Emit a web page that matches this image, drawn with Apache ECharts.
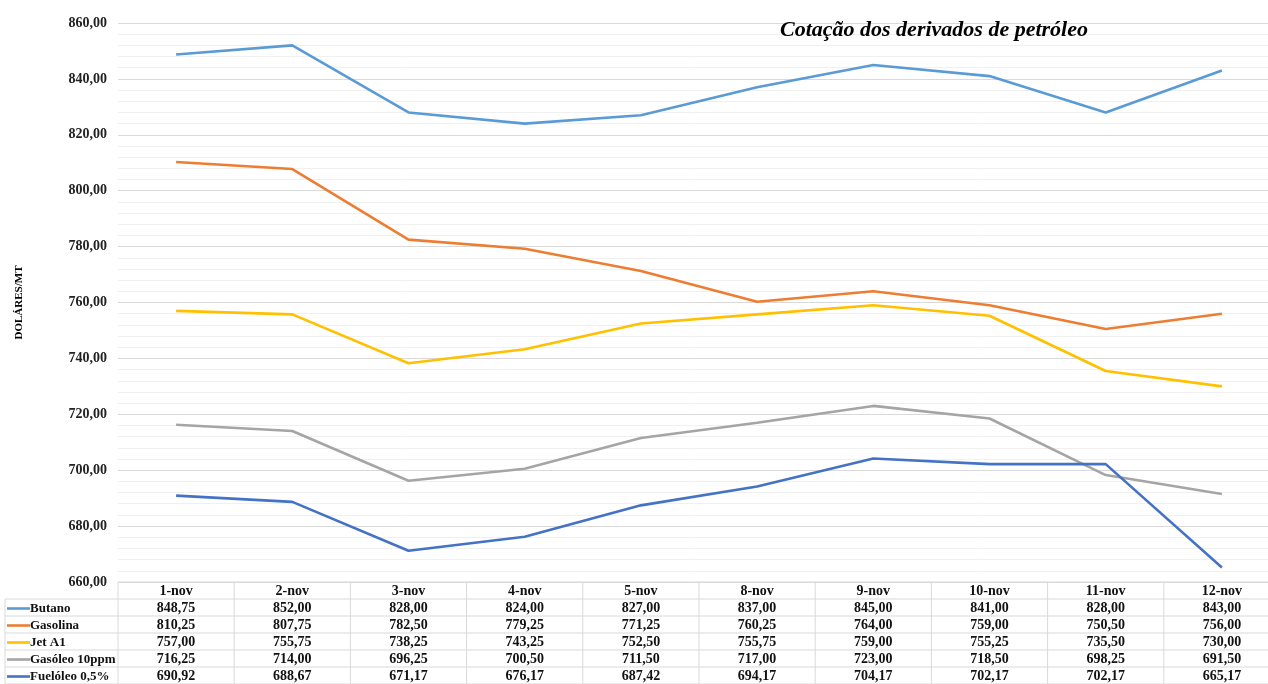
<!DOCTYPE html>
<html>
<head>
<meta charset="utf-8">
<script src="https://cdn.jsdelivr.net/npm/echarts@6/dist/echarts.min.js"></script>
<style>
html,body{margin:0;padding:0;background:#fff;}
#main{width:1268px;height:684px;}
</style>
</head>
<body>
<div id="main"></div>
<script>
// dados
var dias=['1-nov','2-nov','3-nov','4-nov','5-nov','8-nov','9-nov','10-nov','11-nov','12-nov'];
var nomes=['Butano','Gasolina','Jet A1','Gasóleo 10ppm','Fuelóleo 0,5%'];
var butano=[848.75,852.00,828.00,824.00,827.00,837.00,845.00,841.00,828.00,843.00];
var gasolina=[810.25,807.75,782.50,779.25,771.25,760.25,764.00,759.00,750.50,756.00];
var jetA1=[757.00,755.75,738.25,743.25,752.50,755.75,759.00,755.25,735.50,730.00];
var gasoleo=[716.25,714.00,696.25,700.50,711.50,717.00,723.00,718.50,698.25,691.50];
var fuelo=[690.92,688.67,671.17,676.17,687.42,694.17,704.17,702.17,702.17,665.17];
var cores=['#5b9bd5','#ed7d31','#ffc000','#a5a5a5','#4472c4'];

var valores=[butano,gasolina,jetA1,gasoleo,fuelo];
var fonte='"Liberation Serif", "DejaVu Serif", serif';

function fmt(v){
    return v.toFixed(2).replace('.',',');
}

var series=[];
for(var i=0;i<nomes.length;i++){
    series.push({
        name:nomes[i],
        type:'line',
        data:valores[i],
        showSymbol:false,
        symbol:'none',
        lineStyle:{width:2.6,color:cores[i]},
        itemStyle:{color:cores[i]}
    });
}

var gLeft=118,gTop=23,gBottom=684-582;
var myChart=echarts.init(document.getElementById('main'));
var option={
    backgroundColor:'#fff',
    animation:false,
    title:{
        text:'Cotação dos derivados de petróleo',
        left:775,
        top:14,
        textStyle:{fontFamily:fonte,fontSize:22,fontWeight:'bold',fontStyle:'italic',color:'#000'}
    },
    grid:{left:gLeft,top:gTop,width:1162,bottom:gBottom,containLabel:false,outerBoundsMode:'none'},
    xAxis:{
        type:'category',
        data:dias,
        boundaryGap:true,
        axisLine:{show:false},
        axisTick:{show:false},
        axisLabel:{show:false}
    },
    yAxis:{
        type:'value',
        min:660,
        max:860,
        interval:20,
        name:'DOLÁRES/MT',
        nameLocation:'middle',
        nameRotate:90,
        nameGap:93,
        nameTextStyle:{fontFamily:fonte,fontSize:11,fontWeight:'bold',color:'#000'},
        axisLine:{show:false},
        axisTick:{show:false},
        axisLabel:{
            fontFamily:fonte,fontSize:14,fontWeight:'bold',color:'#222',margin:11,
            formatter:function(v){return fmt(v);}
        },
        splitLine:{lineStyle:{color:'#d9d9d9',width:1}},
        minorTick:{show:false,splitNumber:5},
        minorSplitLine:{show:true,lineStyle:{color:'#f0f0f0',width:1}}
    },
    series:series
};
myChart.setOption(option);

// tabela de dados
var rowH=17;
var top0=582;
var lineCol='#d9d9d9';
var txt={fontFamily:fonte,fontSize:14,fontWeight:'bold',fill:'#111'};
var g=[];
var cw=myChart.convertToPixel({xAxisIndex:0},dias[1])-myChart.convertToPixel({xAxisIndex:0},dias[0]);
var xEnd=myChart.convertToPixel({xAxisIndex:0},dias[dias.length-1])+cw/2;

// linhas horizontais
g.push({type:'line',shape:{x1:gLeft,y1:top0,x2:xEnd,y2:top0},style:{stroke:lineCol,lineWidth:1}});
for(var r=1;r<=nomes.length+1;r++){
    var y=top0+r*rowH;
    g.push({type:'line',shape:{x1:5,y1:y,x2:xEnd,y2:y},style:{stroke:lineCol,lineWidth:1}});
}
// linhas verticais
g.push({type:'line',shape:{x1:5,y1:top0+rowH,x2:5,y2:684},style:{stroke:lineCol,lineWidth:1}});
for(var c=0;c<=dias.length;c++){
    var x=gLeft+c*cw;
    g.push({type:'line',shape:{x1:x,y1:top0,x2:x,y2:684},style:{stroke:lineCol,lineWidth:1}});
}
// cabeçalho
for(var c2=0;c2<dias.length;c2++){
    var cx=myChart.convertToPixel({xAxisIndex:0},dias[c2]);
    g.push({type:'text',x:cx,y:top0+rowH/2+1,style:Object.assign({text:dias[c2],align:'center',verticalAlign:'middle'},txt)});
}
// linhas de dados
for(var s=0;s<nomes.length;s++){
    var yc=top0+(s+1)*rowH+rowH/2+1;
    g.push({type:'line',shape:{x1:7,y1:yc,x2:30,y2:yc},style:{stroke:cores[s],lineWidth:2.6}});
    g.push({type:'text',x:30,y:yc,style:Object.assign({text:nomes[s],align:'left',verticalAlign:'middle'},txt,{fontSize:13})});
    for(var k=0;k<dias.length;k++){
        var px=myChart.convertToPixel({xAxisIndex:0},dias[k]);
        g.push({type:'text',x:px,y:yc,style:Object.assign({text:fmt(valores[s][k]),align:'center',verticalAlign:'middle'},txt)});
    }
}
myChart.setOption({graphic:{elements:g}});
</script>
</body>
</html>
